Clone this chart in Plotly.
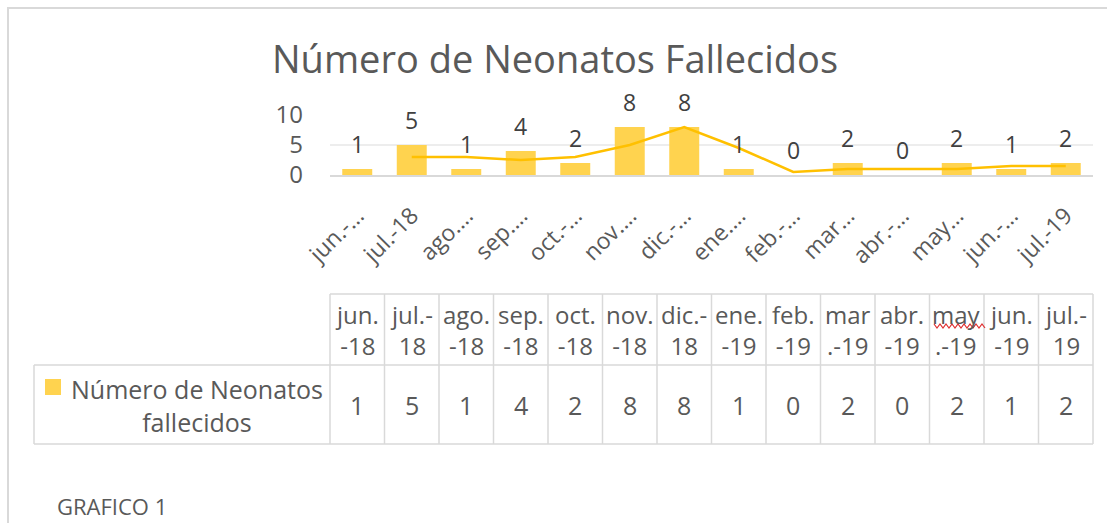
import plotly.graph_objects as go

W, H = 1107, 523

months = ["jun.-18", "jul.-18", "ago.-18", "sep.-18", "oct.-18", "nov.-18", "dic.-18",
          "ene.-19", "feb.-19", "mar.-19", "abr.-19", "may.-19", "jun.-19", "jul.-19"]
axis_labels = ["jun.-…", "jul.-18", "ago.…", "sep.…", "oct.-…", "nov.…", "dic.-…",
               "ene.…", "feb.-…", "mar…", "abr.-…", "may…", "jun.-…", "jul.-19"]
table_headers = ["jun.<br>-18", "jul.-<br>18", "ago.<br>-18", "sep.<br>-18", "oct.<br>-18",
                 "nov.<br>-18", "dic.-<br>18", "ene.<br>-19", "feb.<br>-19", "mar<br>.-19",
                 "abr.<br>-19", "may<br>.-19", "jun.<br>-19", "jul.-<br>19"]
deaths = [1, 5, 1, 4, 2, 8, 8, 1, 0, 2, 0, 2, 1, 2]
# media movil (2 periodos)
trend = [None, 3, 3, 2.5, 3, 5, 8, 4.5, 0.5, 1, 1, 1, 1.5, 1.5]

series_name = "Número de Neonatos<br>fallecidos"
title = "Número de Neonatos Fallecidos"
caption = "GRAFICO 1"

BAR = "#FFD34F"
LINE = "#FFC000"
GRID = "#D9D9D9"
TXT = "#595959"
FONT = "Open Sans"


def px(x):
    return x / W


def py(y):
    return 1 - y / H


# plot area / table in pixels
L, R = 330, 1093
T_TOP, T_MID, T_BOT, T_LEFT = 294, 365, 444, 34

fig = go.Figure()
fig.add_trace(go.Bar(x=months, y=deaths, marker=dict(color=BAR, line=dict(width=0)),
                     name="Número de Neonatos fallecidos"))
fig.add_trace(go.Scatter(x=months, y=trend, mode="lines",
                         line=dict(color=LINE, width=2.5), connectgaps=False))

# data labels above bars
for m, v in zip(months, deaths):
    fig.add_annotation(x=m, y=v, text=str(v), showarrow=False, xanchor="center",
                       yanchor="bottom", yshift=7,
                       font=dict(size=23, color="#404040", family=FONT))

# title
fig.add_annotation(x=px(555), y=py(58), xref="paper", yref="paper", text=title,
                   showarrow=False, xanchor="center", yanchor="middle",
                   font=dict(size=38, color=TXT, family=FONT))

# data table text
for m, h, v in zip(months, table_headers, deaths):
    fig.add_annotation(x=m, y=py(330), yref="paper", text=h, showarrow=False,
                       xanchor="center", yanchor="middle",
                       font=dict(size=24, color=TXT, family=FONT))
    fig.add_annotation(x=m, y=py((T_MID + T_BOT) / 2), yref="paper", text=str(v),
                       showarrow=False, xanchor="center", yanchor="middle",
                       font=dict(size=25, color=TXT, family=FONT))

fig.add_annotation(x=px(197), y=py(405), xref="paper", yref="paper", text=series_name,
                   showarrow=False, align="center", xanchor="center", yanchor="middle",
                   font=dict(size=25, color=TXT, family=FONT))
fig.add_annotation(x=px(55), y=py(506), xref="paper", yref="paper", text=caption,
                   showarrow=False, xanchor="left", yanchor="middle",
                   font=dict(size=22, color=TXT, family=FONT))

shapes = []
# outer chart frame
shapes.append(dict(type="rect", xref="paper", yref="paper", x0=px(8), x1=px(W + 10),
                   y0=py(H + 10), y1=py(8), line=dict(color=GRID, width=2)))
# table grid
n = len(months)
for i in range(n + 1):
    shapes.append(dict(type="line", xref="x domain", yref="paper", x0=i / n, x1=i / n,
                       y0=py(T_BOT), y1=py(T_TOP), line=dict(color=GRID, width=1.5)))
shapes.append(dict(type="line", xref="x domain", yref="paper", x0=0, x1=1,
                   y0=py(T_TOP), y1=py(T_TOP), line=dict(color=GRID, width=1.5)))
shapes.append(dict(type="line", xref="paper", yref="paper", x0=px(T_LEFT), x1=px(R),
                   y0=py(T_MID), y1=py(T_MID), line=dict(color=GRID, width=1.5)))
shapes.append(dict(type="line", xref="paper", yref="paper", x0=px(T_LEFT), x1=px(R),
                   y0=py(T_BOT), y1=py(T_BOT), line=dict(color=GRID, width=1.5)))
shapes.append(dict(type="line", xref="paper", yref="paper", x0=px(T_LEFT), x1=px(T_LEFT),
                   y0=py(T_BOT), y1=py(T_MID), line=dict(color=GRID, width=1.5)))
# legend key
shapes.append(dict(type="rect", xref="paper", yref="paper", x0=px(45), x1=px(61),
                   y0=py(395), y1=py(379), fillcolor=BAR, line=dict(width=0)))
# spell-check squiggle under "may"
zig = []
xs = 934
k = 0
while xs <= 986:
    zig.append((xs, 324 if k % 2 == 0 else 328))
    xs += 3
    k += 1
path = "M " + " L ".join(f"{px(a):.5f},{py(b):.5f}" for a, b in zig)
shapes.append(dict(type="path", xref="paper", yref="paper", path=path,
                   line=dict(color="#E03030", width=1.2)))

fig.update_layout(
    width=W, height=H, margin=dict(l=0, r=0, t=0, b=0, pad=0, autoexpand=False),
    paper_bgcolor="white", plot_bgcolor="white", showlegend=False,
    bargap=0.45, shapes=shapes,
    font=dict(family=FONT, color=TXT),
)
fig.update_xaxes(domain=[px(L), px(R)], type="category", range=[-0.5, n - 0.5],
                 tickmode="array", tickvals=months, ticktext=axis_labels, tickangle=-45,
                 tickfont=dict(size=23, color=TXT, family=FONT), ticks="",
                 showline=True, linecolor=GRID, linewidth=2, showgrid=False,
                 ticklabelstandoff=16, automargin=False)
fig.update_yaxes(domain=[py(175), py(115)], range=[0, 10], tickvals=[0, 5, 10],
                 tickfont=dict(size=24, color=TXT, family=FONT), showgrid=True,
                 gridcolor="#EDEDED", gridwidth=1.5, zeroline=False, showline=False,
                 ticklabelstandoff=26, automargin=False)

fig.write_html("out.html", config={"displayModeBar": False},
               post_script="document.body.style.margin='0';")
